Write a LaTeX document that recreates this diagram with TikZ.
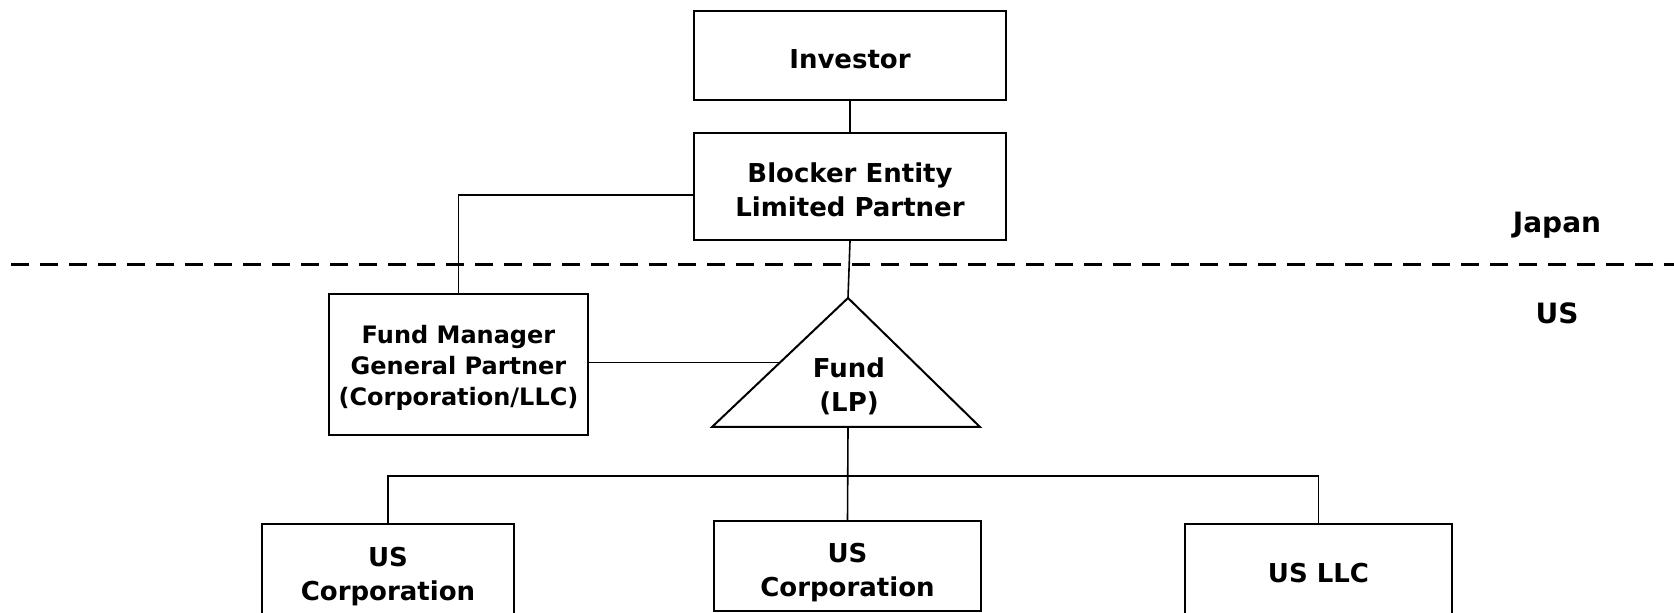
\documentclass[tikz,border=0pt]{standalone}
\usepackage{fontspec}
\setmainfont{DejaVu Sans}
\usetikzlibrary{positioning,calc}
\newcommand{\lift}[1][13pt]{\rule{0pt}{#1}}

\begin{document}
\begin{tikzpicture}[x=0.5pt, y=-0.5pt, font=\fontsize{13}{17}\selectfont\bfseries,
	entity/.style={
		draw,
		line width=1pt,
		align=center,
		inner sep=0pt
	},
	link/.style={line width=0.8pt},
	region/.style={font=\fontsize{14}{17}\selectfont\bfseries}]
		\useasboundingbox (0,0) rectangle (1674,613);

		\node[entity,minimum width=156pt,minimum height=44.5pt] (investor)  at (850,55.5)  {\lift Investor};
		\node[entity,minimum width=156pt,minimum height=53.5pt] (blocker)   at (850,186.5) {\lift Blocker Entity\\Limited Partner};
		\node[entity,minimum width=129.5pt,minimum height=70.5pt,
		      font=\fontsize{12}{15.5}\selectfont\bfseries]     (manager)   at (458.5,364.5) {\lift[12.5pt]Fund Manager\\General Partner\\(Corporation/LLC)};

		% fund triangle
		\coordinate (apex)      at (848,298);
		\coordinate (baseleft)  at (712,427);
		\coordinate (baseright) at (980,427);
		\draw[line width=1pt] (apex) -- (baseleft) -- (baseright) -- cycle;
		\node[align=center] (fund) at (849,386) {Fund\\(LP)};
		\coordinate (fundfoot) at (apex |- baseleft);
		\coordinate (fundside) at ($(baseleft)!0.5!(apex)$);

		\node[entity,minimum width=126pt,minimum height=49pt]   (corpleft)  at (388,573)    {\lift US\\Corporation};
		\node[entity,minimum width=133.5pt,minimum height=45pt] (corpmid)   at (847.5,566)  {\lift[16.5pt]US\\Corporation};
		\node[entity,minimum width=133.5pt,minimum height=48pt] (llc)       at (1318.5,572) {\lift[11pt]US LLC};

		\node[region] (japan) at (1557,225) {Japan};
		\node[region] (us)    at (1557,313) {US};

		% border
		\coordinate (borderwest) at (11,265);
		\coordinate (bordereast) at (1674,265);
		\draw[line width=1.5pt, dash pattern=on 9pt off 5.5pt] (borderwest) -- (bordereast);

		\coordinate (bus) at (848,476);

		\draw[link] (investor) -- (blocker);
		\draw[link] (blocker.south) -- (apex);
		\draw[link] ([yshift=-4.25pt]blocker.west) -| (manager.north);
		\draw[link] (fundside) -- (fundside -| manager.east);
		\draw[link] (fundfoot) -- (corpmid.north);
		\draw[link] (corpleft.north) |- (bus) -| (llc.north);
	\end{tikzpicture}
\end{document}
